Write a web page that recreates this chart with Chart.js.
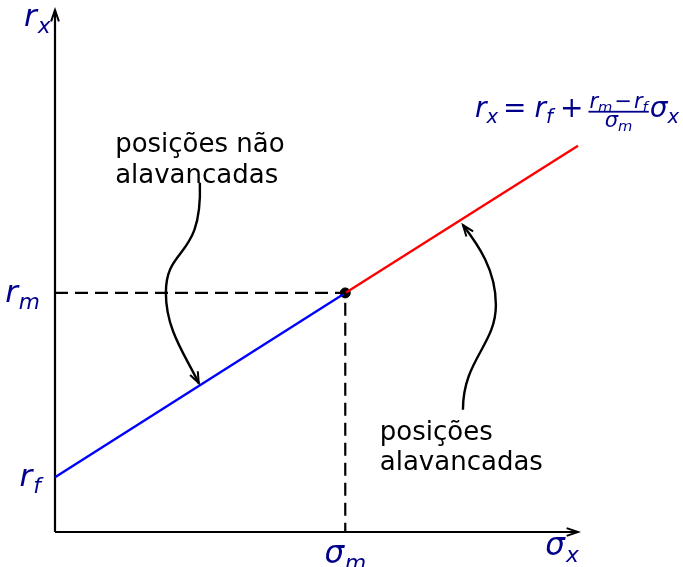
<!DOCTYPE html>
<html>
<head>
<meta charset="utf-8">
<script src="https://cdn.jsdelivr.net/npm/chart.js@4/dist/chart.umd.min.js"></script>
<style>
  html, body { margin: 0; padding: 0; background: #fff; }
  canvas { display: block; }
</style>
</head>
<body>
<canvas id="cml" width="683" height="567"></canvas>
<script>
// -------------------------------
// Data (axis units)
// -------------------------------
const xRange = [0, 10];
const yRange = [0, 10];

const riskFree = 1.05;      // r_f
const marketReturn = 4.58;  // r_m
const marketRisk = 5.55;    // sigma_m

// leveraged part continues to the right edge
const lineEndX = [marketRisk, 10];
const lineEndY = [marketReturn, 7.4];

// curly annotation arrows: start, then (c1, c2, end) triples
const unleveredArrow = [[2.77, 6.69], [2.82, 5.20], [2.12, 5.50], [2.12, 4.58], [2.12, 3.87], [2.49, 3.39], [2.75, 2.85]];
const leveredArrow = [[7.80, 2.34], [7.80, 3.30], [8.43, 3.58], [8.43, 4.35], [8.43, 5.02], [8.09, 5.50], [7.80, 5.88]];

const unleveredLabel = ["posições não", "alavancadas"];
const leveredLabel = ["posições", "alavancadas"];
const unleveredLabelAt = [1.15, 7.28];
const leveredLabelAt = [6.21, 1.76];

const MATH_COLOR = "#00008b";
const MATH_FONT = '"DejaVu Sans", sans-serif';

// -------------------------------
// Math text helpers
// -------------------------------
function mathFont(size, italic) {
  return (italic ? "italic " : "") + size + "px " + MATH_FONT;
}

// parts: [text, level, gapBefore, upright]
function runWidth(ctx, parts, size) {
  let w = 0;
  parts.forEach(([t, lvl, gap, up]) => {
    const s = size * Math.pow(0.7, lvl);
    ctx.font = mathFont(s, !up);
    w += (gap || 0) + ctx.measureText(t).width;
  });
  return w;
}

function drawRun(ctx, parts, x, y, size) {
  let cx = x;
  parts.forEach(([t, lvl, gap, up]) => {
    const s = size * Math.pow(0.7, lvl);
    let dy = 0;
    for (let i = 0; i < lvl; i++) dy += size * Math.pow(0.7, i) * 0.22;
    ctx.font = mathFont(s, !up);
    cx += gap || 0;
    ctx.fillText(t, cx, y + dy);
    cx += ctx.measureText(t).width;
  });
  return cx;
}

function drawLabel(ctx, parts, x, y, size, align) {
  const w = runWidth(ctx, parts, size);
  let sx = x;
  if (align === "right") sx = x - w;
  if (align === "center") sx = x - w / 2;
  drawRun(ctx, parts, sx, y, size);
}

// -------------------------------
// Plugins
// -------------------------------
function arrowHead(ctx, tipX, tipY, fromX, fromY, len, spread) {
  const a = Math.atan2(tipY - fromY, tipX - fromX);
  ctx.beginPath();
  ctx.moveTo(tipX - len * Math.cos(a - spread), tipY - len * Math.sin(a - spread));
  ctx.lineTo(tipX, tipY);
  ctx.lineTo(tipX - len * Math.cos(a + spread), tipY - len * Math.sin(a + spread));
  ctx.stroke();
}

const axesPlugin = {
  id: "axesWithArrows",
  beforeDatasetsDraw(chart) {
    const { ctx, chartArea: a } = chart;
    ctx.save();
    ctx.strokeStyle = "#000";
    ctx.lineWidth = 2.2;
    ctx.beginPath();
    ctx.moveTo(a.left, a.bottom);
    ctx.lineTo(a.left, a.top);
    ctx.moveTo(a.left, a.bottom);
    ctx.lineTo(a.right, a.bottom);
    ctx.stroke();
    ctx.lineWidth = 2;
    arrowHead(ctx, a.left, a.top, a.left, a.top + 10, 12, 0.33);
    arrowHead(ctx, a.right, a.bottom, a.right - 10, a.bottom, 12, 0.33);
    ctx.restore();
  }
};

const notesPlugin = {
  id: "notes",
  afterDatasetsDraw(chart) {
    const { ctx, scales: { x, y }, chartArea: a } = chart;
    const px = v => x.getPixelForValue(v);
    const py = v => y.getPixelForValue(v);
    ctx.save();

    // curly arrows
    ctx.strokeStyle = "#000";
    [unleveredArrow, leveredArrow].forEach(pts => {
      const p = pts.map(([vx, vy]) => [px(vx), py(vy)]);
      ctx.lineWidth = 2.4;
      ctx.beginPath();
      ctx.moveTo(p[0][0], p[0][1]);
      for (let i = 1; i + 2 < p.length; i += 3) {
        ctx.bezierCurveTo(p[i][0], p[i][1], p[i + 1][0], p[i + 1][1], p[i + 2][0], p[i + 2][1]);
      }
      ctx.stroke();
      const tip = p[p.length - 1], prev = p[p.length - 2];
      ctx.lineWidth = 2;
      arrowHead(ctx, tip[0], tip[1], prev[0], prev[1], 12, 0.36);
    });

    // plain text notes
    ctx.fillStyle = "#000";
    ctx.font = '26px "DejaVu Sans", sans-serif';
    ctx.textBaseline = "alphabetic";
    unleveredLabel.forEach((t, i) => ctx.fillText(t, px(unleveredLabelAt[0]), py(unleveredLabelAt[1]) + i * 31));
    leveredLabel.forEach((t, i) => ctx.fillText(t, px(leveredLabelAt[0]), py(leveredLabelAt[1]) + i * 30));

    // axis symbols
    ctx.fillStyle = MATH_COLOR;
    const S = 31;
    drawLabel(ctx, [["r", 0], ["x", 1, 1]], a.left - 31, a.top + 16, S, "left");
    drawLabel(ctx, [["r", 0], ["m", 1, 1]], a.left - 15, py(marketReturn) + 9, S, "right");
    drawLabel(ctx, [["r", 0], ["f", 1, 1]], a.left - 14, py(riskFree) + 9, S, "right");
    drawLabel(ctx, [["σ", 0], ["m", 1, 1]], px(marketRisk), a.bottom + 31, S, "center");
    drawLabel(ctx, [["σ", 0], ["x", 1, 1]], a.right - 16, a.bottom + 23, S, "center");

    // line equation
    const F = 28;
    const bx = 475, by = py(lineEndY[1]) - 29;
    let cx = drawRun(ctx, [["r", 0], ["x", 1, 0], ["=", 0, 5, true], ["r", 0, 8], ["f", 1, 0], ["+", 0, 7, true]], bx, by, F);
    cx += 5;
    const num = [["r", 0], ["m", 1, 0], ["−", 0, 2, true], ["r", 0, 2], ["f", 1, 0]];
    const den = [["σ", 0], ["m", 1, 0]];
    const fs = 21;
    const nw = runWidth(ctx, num, fs), dw = runWidth(ctx, den, fs);
    const fw = Math.max(nw, dw) + 2;
    const bar = by - 5;
    drawRun(ctx, num, cx + (fw - nw) / 2, bar - 4, fs);
    drawRun(ctx, den, cx + (fw - dw) / 2, bar + 15, fs);
    ctx.fillRect(cx, bar - 0.9, fw, 1.8);
    cx += fw + 1;
    drawRun(ctx, [["σ", 0], ["x", 1, 0]], cx, by, F);

    ctx.restore();
  }
};

// -------------------------------
// Chart
// -------------------------------
new Chart(document.getElementById("cml"), {
  type: "scatter",
  data: {
    datasets: [
      {
        label: "guides",
        data: [{ x: xRange[0], y: marketReturn }, { x: marketRisk, y: marketReturn }, { x: marketRisk, y: yRange[0] }],
        showLine: true,
        borderColor: "#000",
        borderWidth: 2.2,
        borderDash: [13, 7],
        pointRadius: 0,
        clip: false
      },
      {
        label: "unlevered",
        data: [{ x: xRange[0], y: riskFree }, { x: marketRisk, y: marketReturn }],
        showLine: true,
        borderColor: "#0000ff",
        borderWidth: 2.4,
        pointRadius: 0,
        clip: false
      },
      {
        label: "levered",
        data: lineEndX.map((v, i) => ({ x: v, y: lineEndY[i] })),
        showLine: true,
        borderColor: "#ff0000",
        borderWidth: 2.4,
        pointRadius: 0,
        clip: false
      },
      {
        label: "market",
        data: [{ x: marketRisk, y: marketReturn }],
        pointRadius: 5,
        pointBackgroundColor: "#000",
        pointBorderColor: "#000",
        clip: false
      }
    ]
  },
  options: {
    responsive: false,
    animation: false,
    devicePixelRatio: 1,
    layout: { padding: { left: 55, right: 105, top: 10, bottom: 35 } },
    plugins: { legend: { display: false }, tooltip: { enabled: false } },
    scales: {
      x: { type: "linear", min: xRange[0], max: xRange[1], display: false },
      y: { type: "linear", min: yRange[0], max: yRange[1], display: false }
    }
  },
  plugins: [axesPlugin, notesPlugin]
});
</script>
</body>
</html>
